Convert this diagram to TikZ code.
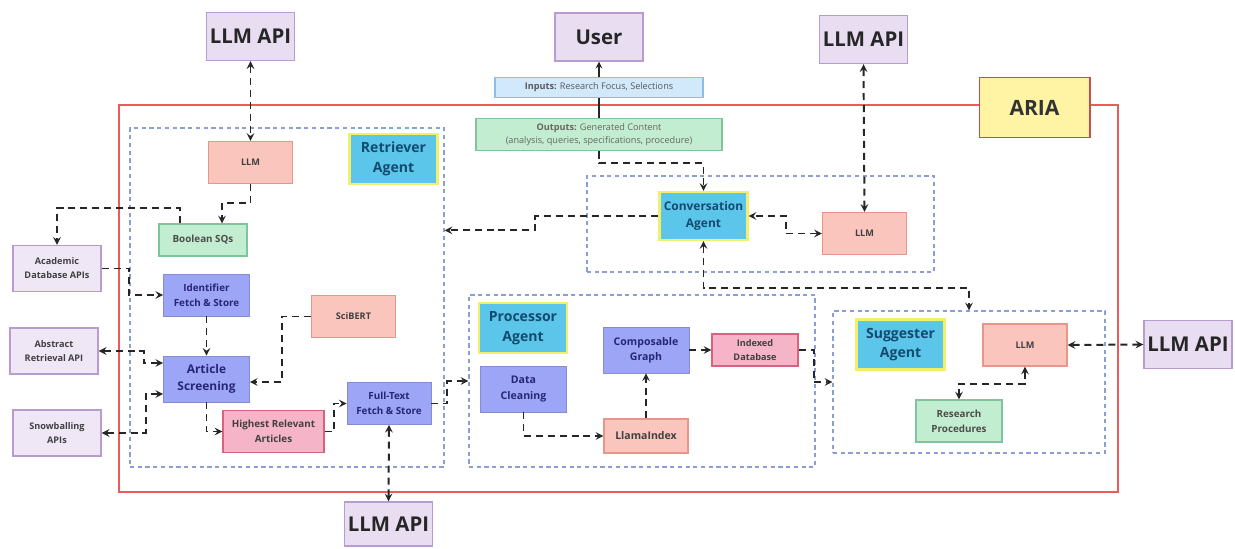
\documentclass[tikz,border=0pt]{standalone}
\usepackage{fontspec}
\setmainfont{Open Sans}
\usetikzlibrary{arrows,positioning,calc}

\definecolor{apifill}{HTML}{E9DDF2}
\definecolor{apiline}{HTML}{B89CCF}
\definecolor{llmfill}{HTML}{F9C5BD}
\definecolor{llmline}{HTML}{E8968A}
\definecolor{agentfill}{HTML}{5CC6EA}
\definecolor{agentline}{HTML}{F2F06A}
\definecolor{agenttext}{HTML}{124A70}
\definecolor{fetchfill}{HTML}{9CA5F6}
\definecolor{fetchtext}{HTML}{262675}
\definecolor{pinkfill}{HTML}{F6B4C8}
\definecolor{pinkline}{HTML}{D9627E}
\definecolor{greenfill}{HTML}{C2EDD0}
\definecolor{greenline}{HTML}{7FC49A}
\definecolor{inputfill}{HTML}{D2E8FB}
\definecolor{inputline}{HTML}{8FBDE8}
\definecolor{ariafill}{HTML}{FFF4A3}
\definecolor{framered}{HTML}{EC5B5B}
\definecolor{boxline}{HTML}{8A9FD6}

\begin{document}
\begin{tikzpicture}[x=0.025cm, y=-0.025cm,
  every node/.style={align=center, inner sep=1pt},
  apibox/.style={draw=apiline, fill=apifill, line width=1pt, minimum width=2.2cm, minimum height=1.2cm, font=\fontsize{14.5}{17}\selectfont\bfseries, text=black!85},
  ariabox/.style={draw=framered!85!black, fill=ariafill, line width=1.4pt, minimum width=2.75cm, minimum height=1.5cm, font=\fontsize{15}{18}\selectfont\bfseries, text=black!80},
  llmbox/.style={draw=llmline, fill=llmfill, line width=0.8pt, minimum width=2.1cm, minimum height=1.05cm, font=\fontsize{6.5}{9}\selectfont\bfseries, text=black!75},
  agentbox/.style={draw=agentline, fill=agentfill, line width=1.5pt, minimum width=2.2cm, minimum height=1.25cm, font=\fontsize{10}{14}\selectfont\bfseries, text=agenttext},
  fetchbox/.style={fill=fetchfill, draw=fetchfill!85!black, line width=0.4pt, minimum width=2.15cm, minimum height=1.05cm, font=\fontsize{7}{10.5}\selectfont\bfseries, text=fetchtext},
  pinkbox/.style={draw=pinkline, fill=pinkfill, line width=0.8pt, minimum width=2.15cm, minimum height=1.05cm, font=\fontsize{7}{10.5}\selectfont\bfseries, text=black!75},
  greenbox/.style={draw=greenline, fill=greenfill, line width=0.8pt, minimum width=2.15cm, minimum height=1.05cm, font=\fontsize{7}{10.5}\selectfont\bfseries, text=black!70},
  extbox/.style={draw=apiline, fill=apifill!70, line width=1pt, minimum width=2.2cm, minimum height=1.15cm, font=\fontsize{6.5}{10}\selectfont\bfseries, text=black!75},
  container/.style={draw=boxline, dash pattern=on 3pt off 2.5pt, line width=0.8pt},
  link/.style={draw=black!85, line width=1.4pt, dash pattern=on 5pt off 3.5pt, >=stealth}]
 \useasboundingbox (0,0) rectangle (1235,548);

 % ARIA frame and agent boundaries
 \draw[framered, line width=1.6pt] (119,105) rectangle (1118,492);
 \node (retbox) at (287,297.5) [container, minimum width=7.85cm, minimum height=8.475cm] {};
 \node (procbox) at (642,381) [container, minimum width=8.65cm, minimum height=4.3cm] {};
 \node (convbox) at (760.5,224) [container, minimum width=8.675cm, minimum height=2.4cm] {};
 \node (suggbox) at (969,382) [container, minimum width=6.8cm, minimum height=3.55cm] {};
 \node (aria) at (1034.5,107.5) [ariabox] {ARIA};

 % outside the system
 \node (api1) at (250.5,36.5) [apibox] {LLM API};
 \node (user) at (599,37) [apibox] {User};
 \node (api2) at (863.5,39.5) [apibox] {LLM API};
 \node (api3) at (1188,344.5) [apibox] {LLM API};
 \node (api4) at (388.5,524) [apibox, minimum height=1.1cm] {LLM API};
 \node (acad) at (57,268.5) [extbox] {Academic\\Database APIs};
 \node (abst) at (54,351) [extbox] {Abstract\\Retrieval API};
 \node (snow) at (57,433) [extbox] {Snowballing\\APIs};
 \node (inputs) at (599,87.5) [draw=inputline, fill=inputfill, line width=0.8pt, minimum width=5.2cm, minimum height=0.52cm, font=\fontsize{6.5}{9}\selectfont, text=black!65] {\textbf{Inputs:} Research Focus, Selections};
 \node (outputs) at (599,134.5) [draw=greenline, fill=greenfill, line width=0.8pt, minimum width=6.15cm, minimum height=0.82cm, font=\fontsize{6.5}{9}\selectfont, text=black!60] {\textbf{Outputs:} Generated Content\\(analysis, queries, specifications, procedure)};

 % retriever agent
 \node (ret) at (393.5,159) [agentbox] {Retriever\\Agent};
 \node (llm1) at (250.5,162.5) [llmbox] {LLM};
 \node (bool) at (203,240) [greenbox, minimum width=2.2cm, minimum height=0.8cm] {Boolean SQs};
 \node (ident) at (206.5,295) [fetchbox] {Identifier\\Fetch \& Store};
 \node (artic) at (206.5,379) [fetchbox, minimum height=1.15cm, font=\fontsize{8.5}{12}\selectfont\bfseries] {Article\\Screening};
 \node (sci) at (353.5,316.5) [llmbox] {SciBERT};
 \node (high) at (273.5,431.5) [pinkbox, minimum width=2.525cm] {Highest Relevant\\Articles};
 \node (full) at (389,403.5) [fetchbox, minimum width=2.1cm] {Full-Text\\Fetch \& Store};

 % processor agent
 \node (proc) at (523,328) [agentbox] {Processor\\Agent};
 \node (clean) at (523.5,389) [fetchbox, minimum height=1.15cm, font=\fontsize{7.5}{11}\selectfont\bfseries] {Data\\Cleaning};
 \node (llama) at (646,436) [llmbox, minimum height=0.85cm, font=\fontsize{7.5}{10}\selectfont\bfseries] {LlamaIndex};
 \node (comp) at (646,350) [fetchbox, minimum height=1.15cm, font=\fontsize{7.5}{11}\selectfont\bfseries] {Composable\\Graph};
 \node (idx) at (755,350) [pinkbox, minimum height=0.8cm, font=\fontsize{6.5}{9.5}\selectfont\bfseries] {Indexed\\Database};

 % conversation agent
 \node (conv) at (703.5,216) [agentbox, minimum height=1.2cm, font=\fontsize{8.5}{12}\selectfont\bfseries] {Conversation\\Agent};
 \node (cllm) at (864.5,233.5) [llmbox] {LLM};

 % suggester agent
 \node (sugg) at (900.5,344.5) [agentbox] {Suggester\\Agent};
 \node (sllm) at (1025,345) [llmbox] {LLM};
 \node (res) at (959,421) [greenbox] {Research\\Procedures};

 % user link
 \draw[black!85, line width=1.1pt] (outputs.north) -- (inputs.south);
 \draw[black!85, line width=1.1pt, -stealth] (inputs.north) -- (user.south);

 % connectors
 \draw[link, <->] (api1.south) -- (llm1.north);
 \draw[link, ->] (llm1.south) -- ++(0,19) -| ($(bool.north)+(19,0)$);
 \draw[link, ->] ($(bool.north)+(-23,0)$) -- ++(0,-15) -| (acad.north);
 \draw[link, ->] (acad.east) -- ++(27,0) |- (ident.west);
 \draw[link, ->] (ident.south) -- (artic.north);
 \draw[link, ->] (sci.west) -- ++(-29,0) |- ($(artic.east)+(0,3)$);
 \draw[link, <->] (abst.east) -- ++(45,0) |- ($(artic.west)+(0,-16)$);
 \draw[link, <->] (snow.east) -- ++(44,0) |- ($(artic.west)+(0,15)$);
 \draw[link, ->] (artic.south) |- (high.west);
 \draw[link, ->] (high.east) -- ++(9,0) |- (full.west);
 \draw[link, ->] (full.east) -- ++(16,0) |- (procbox.west);
 \draw[link, <->] (full.south) -- (api4.north);
 \draw[link, ->] (clean.south) |- (llama.west);
 \draw[link, ->] (llama.north) -- (comp.south);
 \draw[link, ->] (comp.east) -- (idx.west);
 \draw[link, ->] (idx.east) -- ++(15,0) |- (suggbox.west);
 \draw[link, ->] (outputs.south) -- ++(0,12) -| (conv.north);
 \draw[link, ->] (conv.west) -- ++(-123,0) |- ($(retbox.north east)+(0,103)$);
 \draw[link, <->] (cllm.west) -- ++(-36,0) |- (conv.east);
 \draw[link, <->] (api2.south) -- (cllm.north);
 \draw[link, <->] (conv.south) -- ++(0,47) -| (suggbox.north);
 \draw[link, <->] (sllm.east) -- (api3.west);
 \draw[link, <->] (sllm.south) -- ++(0,17) -| (res.north);
\end{tikzpicture}
\end{document}
